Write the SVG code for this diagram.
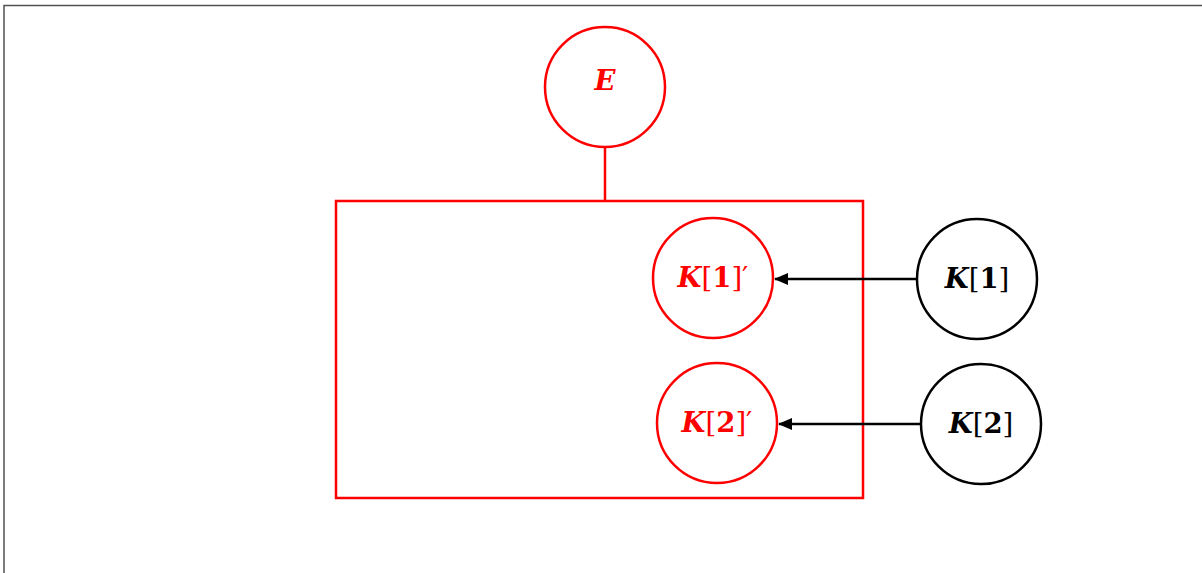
<svg xmlns="http://www.w3.org/2000/svg" width="1202" height="573" viewBox="0 0 1202 573">
<defs>
<style>
.red{fill:none;stroke:#ff0000;stroke-width:2.5}
.blk{fill:none;stroke:#000;stroke-width:2.5}
text{font-family:"DejaVu Serif","Liberation Serif",serif;font-size:27.5px;text-anchor:middle}
.tr{fill:#ff0000}
.tb{fill:#000}
.bi{font-weight:bold;font-style:italic}
.b{font-weight:bold}
.n{font-weight:normal}
</style>
<marker id="ah" markerWidth="14" markerHeight="12" refX="13" refY="6" orient="auto" markerUnits="userSpaceOnUse">
<path d="M0,0 L14,6 L0,12 Z" fill="#000"/>
</marker>
</defs>
<rect width="1202" height="573" fill="#fff"/>
<path d="M4,573 L4,5.5 L1202,5.5" fill="none" stroke="#505050" stroke-width="1.5"/>
<g id="container">
<rect class="red" x="336" y="201" width="527" height="297"/>
</g>
<g id="connectors">
<line class="red" x1="605" y1="147" x2="605" y2="201"/>
<line class="blk" x1="917" y1="279" x2="775" y2="279" marker-end="url(#ah)"/>
<line class="blk" x1="921" y1="424" x2="779" y2="424" marker-end="url(#ah)"/>
</g>
<g id="node-E">
<circle class="red" cx="605" cy="87" r="60"/>
<text class="tr bi" x="605" y="90">E</text>
</g>
<g id="node-K1p">
<circle class="red" cx="713" cy="278" r="60"/>
<text class="tr" x="713" y="287"><tspan class="bi">K</tspan><tspan class="n">[</tspan><tspan class="b">1</tspan><tspan class="n">]′</tspan></text>
</g>
<g id="node-K2p">
<circle class="red" cx="717" cy="423" r="60"/>
<text class="tr" x="717" y="432"><tspan class="bi">K</tspan><tspan class="n">[</tspan><tspan class="b">2</tspan><tspan class="n">]′</tspan></text>
</g>
<g id="node-K1">
<circle class="blk" cx="977" cy="279" r="60"/>
<text class="tb" x="977" y="288"><tspan class="bi">K</tspan><tspan class="n">[</tspan><tspan class="b">1</tspan><tspan class="n">]</tspan></text>
</g>
<g id="node-K2">
<circle class="blk" cx="981" cy="424" r="60"/>
<text class="tb" x="981" y="433"><tspan class="bi">K</tspan><tspan class="n">[</tspan><tspan class="b">2</tspan><tspan class="n">]</tspan></text>
</g>
</svg>
